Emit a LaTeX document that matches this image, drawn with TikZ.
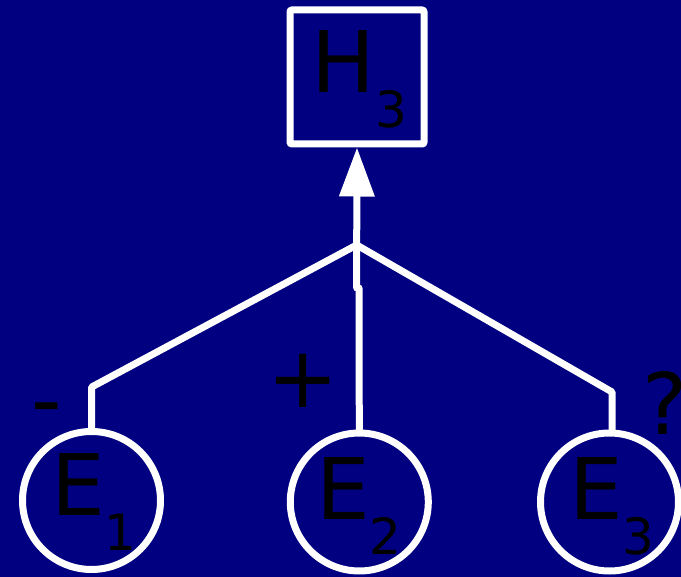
\documentclass[tikz,border=0pt]{standalone}
\usepackage{fontspec}
\setmainfont{DejaVu Sans}
\usetikzlibrary{arrows.meta}
\definecolor{navybg}{RGB}{0,0,128}
\newcommand{\bigtxt}{\fontsize{85pt}{85pt}\selectfont}
\newcommand{\subtxt}{\fontsize{50pt}{50pt}\selectfont}
\newcommand{\sublabel}[2]{#1\raisebox{-35pt}{\subtxt #2}}
\begin{document}
\begin{tikzpicture}[x=1pt,y=-1pt,
  wire/.style={draw=white,line width=7pt,line join=round,line cap=round},
  hbox/.style={draw=white,line width=7pt,minimum width=134pt,minimum height=134pt,
    rounded corners=2pt,inner sep=0pt},
  evt/.style={circle,draw=white,line width=7pt,minimum size=138pt,inner sep=0pt},
  txt/.style={text=black,font=\bigtxt,inner sep=0pt,anchor=base west}]
\fill[navybg] (0,0) rectangle (681,577);
\useasboundingbox (0,0) rectangle (681,577);

% hypothesis box and the three evidence circles
\node[hbox] (h) at (357,77) {};
\node[evt] (e1) at (91.5,500.5) {};
\node[evt] (e2) at (359.3,502) {};
\node[evt] (e3) at (609.5,502) {};

% labels
\node[txt] (hl) at (311,93) {\sublabel{H}{3}};
\node[txt] (e1l) at (51,516) {\sublabel{E}{1}};
\node[txt] (e2l) at (316,520) {\sublabel{E}{2}};
\node[txt] (e3l) at (569,520) {\sublabel{E}{3}};
\node[txt] (minus) at (31,430) {-};
\node[txt] (plus) at (267,408) {+};
\node[txt] (quest) at (642,435) {?};

% connectors
\coordinate (j) at (356.7,245);
\coordinate (c1) at (91.7,387);
\coordinate (c3) at (612,392);
\coordinate (m1) at (356.7,288);
\coordinate (m2) at (359,288);
\draw[wire,line cap=butt,-{Triangle[length=49pt,width=34pt]}] (j) -- (h.south);
\draw[wire] (j) -- (c1) -- (c1 |- e1.north);
\draw[wire] (j) -- (c3) -- (c3 |- e3.north);
\draw[wire] (j) -- (m1) -- (m2) -- (e2.north);
\end{tikzpicture}
\end{document}
